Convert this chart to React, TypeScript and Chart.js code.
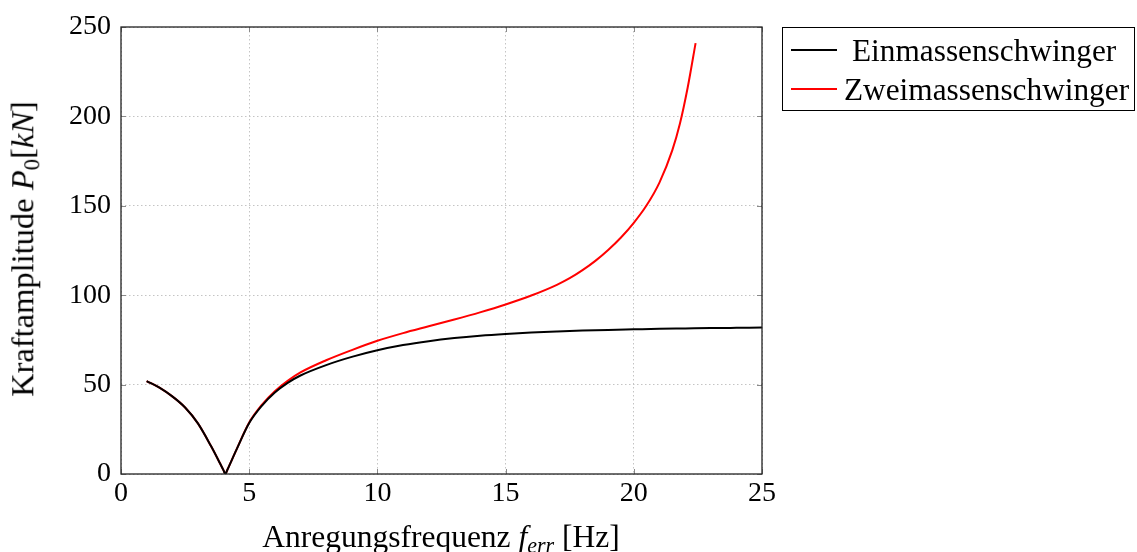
import React, { useEffect, useRef } from "react";
import { Chart, registerables } from "chart.js";

Chart.register(...registerables);

// Einmassenschwinger (black)
const freqEin = [1, 1.5, 2, 2.5, 3, 3.5, 3.86, 4.0, 4.07, 4.15, 4.5, 5, 5.5, 6, 6.5, 7, 8, 9, 10, 11, 12, 13, 14, 15, 16, 17, 18, 19, 20, 21, 22, 23, 24, 25];
const valEin = [52, 48.3, 43.4, 37.2, 28.3, 15.9, 6, 2.0, 0, 2.4, 13.5, 28.5, 38.3, 45.6, 51, 55.1, 60.9, 65.5, 69.2, 72.1, 74.3, 76, 77.3, 78.3, 79.1, 79.7, 80.2, 80.6, 80.9, 81.2, 81.4, 81.6, 81.75, 81.9];

// Zweimassenschwinger (red)
const freqZwei = [1, 1.5, 2, 2.5, 3, 3.5, 3.86, 4.0, 4.07, 4.15, 4.5, 5, 5.5, 6, 6.5, 7, 8, 9, 10, 11, 12, 13, 14, 15, 16, 17, 17.5, 18, 18.5, 19, 19.5, 20, 20.5, 21, 21.5, 21.8, 22.1, 22.41];
const valZwei = [52, 48.3, 43.4, 37.2, 28.3, 15.9, 6, 2.0, 0, 2.4, 13.5, 28.8, 38.8, 46.3, 52.1, 56.8, 63.6, 69.3, 74.5, 78.8, 82.6, 86.4, 90.4, 94.8, 99.8, 105.8, 109.5, 114, 119.2, 125.3, 132.3, 140.5, 150.3, 163, 181, 196, 216, 241];

const xTicks = [0, 5, 10, 15, 20, 25];
const yTicks = [0, 50, 100, 150, 200, 250];

const seriesNames = ["Einmassenschwinger", "Zweimassenschwinger"];
const seriesColors = ["#000000", "#ff0000"];

const FONT = "'Liberation Serif', 'DejaVu Serif', serif";

const framePlugin = {
  id: "frame",
  afterDraw(chart: any) {
    const { ctx, chartArea } = chart;
    const { left, right, top, bottom } = chartArea;
    const xs = chart.scales.x;
    const ys = chart.scales.y;
    ctx.save();
    ctx.strokeStyle = "#8a8a8a";
    ctx.lineWidth = 1;
    const L = 5;
    ctx.beginPath();
    xTicks.forEach((t) => {
      const px = Math.round(xs.getPixelForValue(t)) + 0.5;
      ctx.moveTo(px, bottom);
      ctx.lineTo(px, bottom - L);
      ctx.moveTo(px, top);
      ctx.lineTo(px, top + L);
    });
    yTicks.forEach((t) => {
      const py = Math.round(ys.getPixelForValue(t)) + 0.5;
      ctx.moveTo(left, py);
      ctx.lineTo(left + L, py);
      ctx.moveTo(right, py);
      ctx.lineTo(right - L, py);
    });
    ctx.stroke();
    ctx.strokeStyle = "#222";
    ctx.lineWidth = 1.3;
    ctx.strokeRect(left, top, right - left, bottom - top);
    ctx.restore();
  },
};

export default function App() {
  const ref = useRef<HTMLCanvasElement>(null);

  useEffect(() => {
    document.body.style.margin = "0";
    const canvas = ref.current!;
    const toPts = (xs: number[], ys: number[]) => xs.map((x, i) => ({ x, y: ys[i] }));
    const chart = new Chart(canvas, {
      type: "line",
      data: {
        datasets: [
          {
            label: seriesNames[0],
            data: toPts(freqEin, valEin),
            borderColor: seriesColors[0],
            backgroundColor: seriesColors[0],
            borderWidth: 2,
            pointRadius: 0,
            cubicInterpolationMode: "monotone",
          },
          {
            label: seriesNames[1],
            data: toPts(freqZwei, valZwei),
            borderColor: seriesColors[1],
            backgroundColor: seriesColors[1],
            borderWidth: 2,
            pointRadius: 0,
            cubicInterpolationMode: "monotone",
          },
        ],
      },
      options: {
        responsive: false,
        animation: false,
        events: [],
        layout: { padding: { left: 0, top: 27, right: 375, bottom: 0 } },
        plugins: { legend: { display: false }, tooltip: { enabled: false } },
        scales: {
          x: {
            type: "linear",
            min: 0,
            max: 25,
            afterBuildTicks: (s: any) => {
              s.ticks = xTicks.map((v) => ({ value: v }));
            },
            afterFit: (s: any) => {
              s.height = 78;
            },
            ticks: {
              color: "#000",
              font: { family: FONT, size: 28 },
              padding: 3,
              maxRotation: 0,
            },
            grid: { color: "#c4c4c4", drawTicks: false, lineWidth: 1 },
            border: { display: false, dash: [1.5, 2.5] },
          },
          y: {
            type: "linear",
            min: 0,
            max: 250,
            afterBuildTicks: (s: any) => {
              s.ticks = yTicks.map((v) => ({ value: v }));
            },
            afterFit: (s: any) => {
              s.width = 121;
            },
            ticks: {
              color: "#000",
              font: { family: FONT, size: 28 },
              padding: 10,
            },
            grid: { color: "#c4c4c4", drawTicks: false, lineWidth: 1 },
            border: { display: false, dash: [1.5, 2.5] },
          },
        },
      },
      plugins: [framePlugin],
    } as any);
    return () => chart.destroy();
  }, []);

  const textStyle: React.CSSProperties = {
    position: "absolute",
    fontFamily: FONT,
    color: "#000",
    whiteSpace: "nowrap",
    lineHeight: 1,
  };

  return (
    <div style={{ position: "relative", width: 1137, height: 552, background: "#fff", overflow: "hidden" }}>
      <canvas ref={ref} width={1137} height={552} style={{ position: "absolute", left: 0, top: 0 }} />
      {/* x axis title */}
      <div style={{ ...textStyle, left: 441, top: 521, transform: "translateX(-50%)", fontSize: 31.5 }}>
        Anregungsfrequenz <i>f<sub style={{ fontSize: "0.7em", verticalAlign: "-0.25em" }}>err</sub></i> [Hz]
      </div>
      {/* y axis title */}
      <div
        style={{
          ...textStyle,
          left: 25,
          top: 249,
          transform: "translate(-50%, -50%) rotate(-90deg)",
          fontSize: 32.5,
        }}
      >
        Kraftamplitude <i>P</i>
        <sub style={{ fontSize: "0.7em", verticalAlign: "-0.25em" }}>0</sub>[<i>kN</i>]
      </div>
      {/* legend */}
      <div
        style={{
          position: "absolute",
          left: 782,
          top: 27,
          width: 353,
          height: 84,
          border: "1px solid #000",
          boxSizing: "border-box",
        }}
      >
        {seriesNames.map((name, i) => (
          <div key={name} style={{ position: "absolute", left: 0, top: 3 + i * 39, height: 36, width: "100%" }}>
            <div
              style={{
                position: "absolute",
                left: 8,
                top: 18,
                width: 46,
                height: 2,
                background: seriesColors[i],
              }}
            />
            <div style={{ ...textStyle, left: i === 0 ? 69 : 61, top: 4, fontSize: 31.3 }}>{name}</div>
          </div>
        ))}
      </div>
    </div>
  );
}
